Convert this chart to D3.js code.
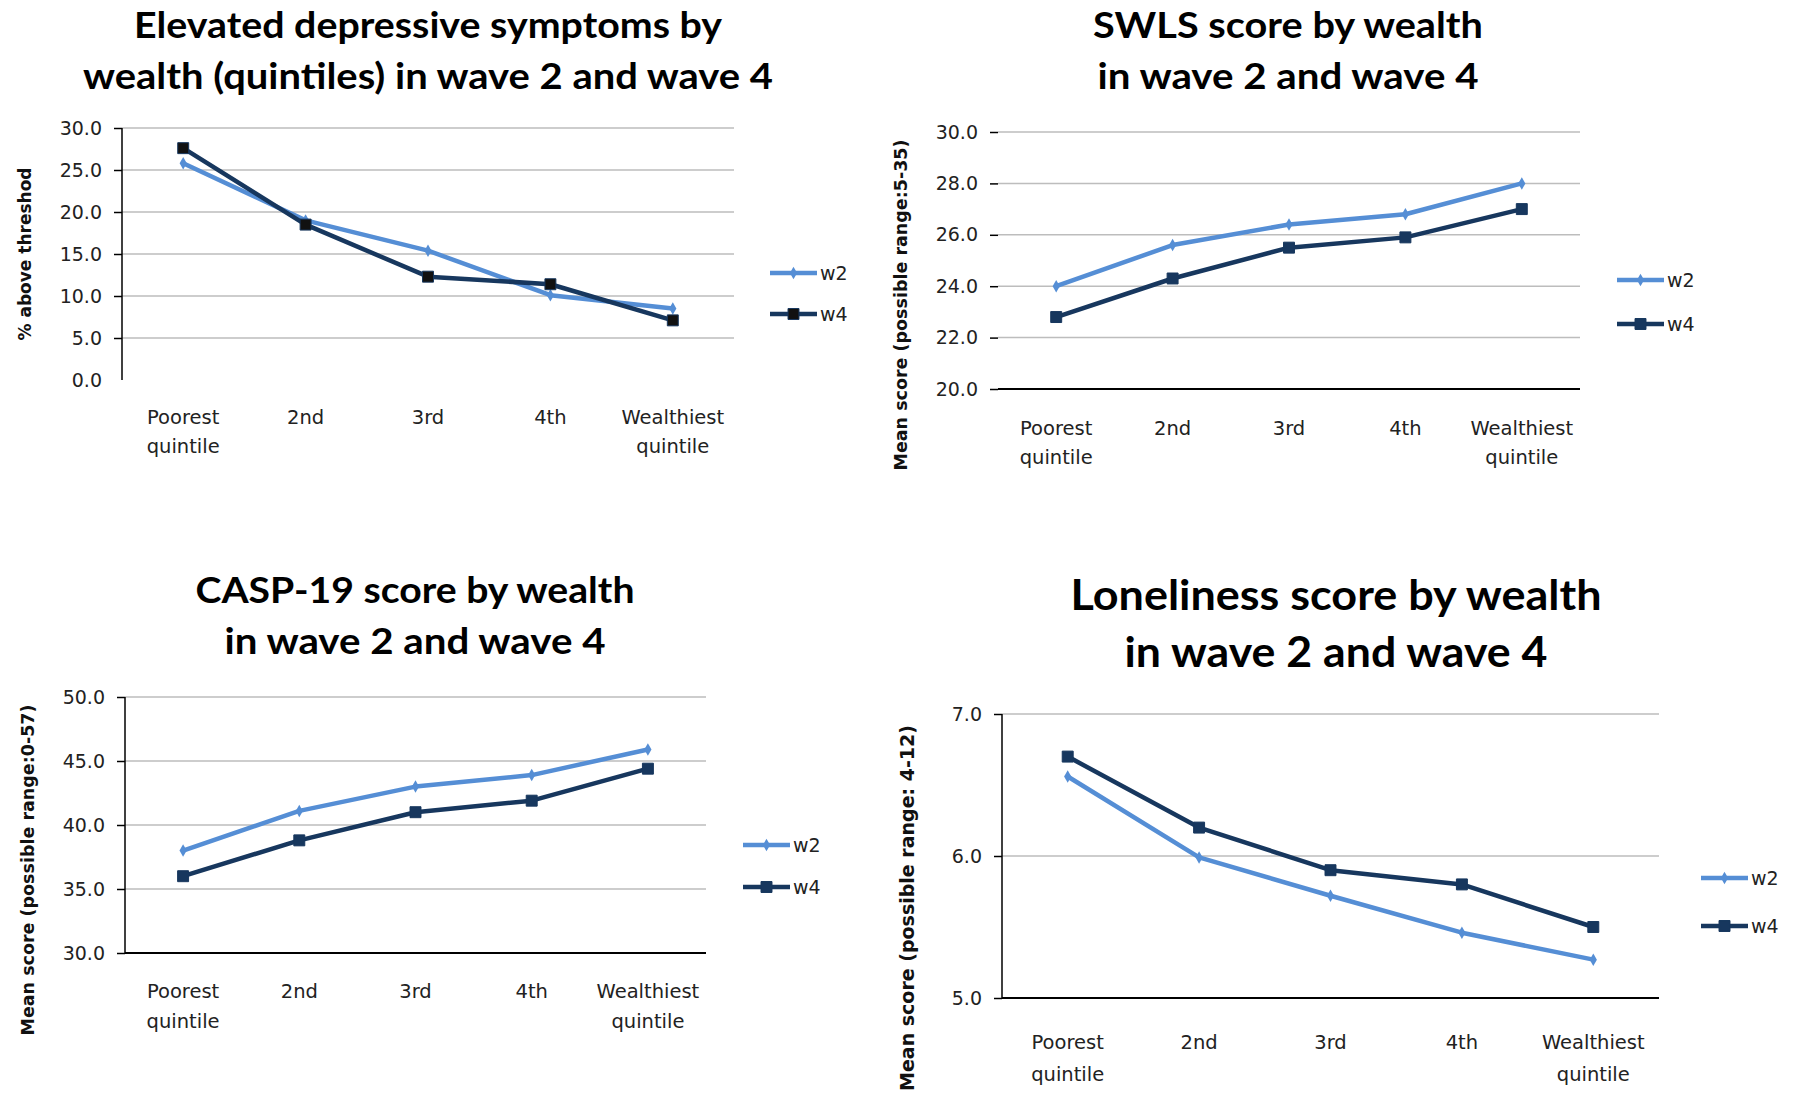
<!DOCTYPE html>
<html>
<head>
<meta charset="utf-8">
<script src="https://cdn.jsdelivr.net/npm/d3@7"></script>
<style>
  html, body { margin: 0; padding: 0; background: #fff; }
  svg { display: block; }
  .title { font-family: Lato, "Open Sans", sans-serif; font-weight: 700; fill: #000; }
  .tick-label, .cat-label, .legend-label { font-family: "DejaVu Sans", sans-serif; fill: #222; }
  .y-title { font-family: "DejaVu Sans", sans-serif; font-weight: 700; fill: #111; }
</style>
</head>
<body>
<svg id="chart" width="1812" height="1096"></svg>
<script>
// Wealth quintiles shared by all four panels
const categories = [["Poorest", "quintile"], ["2nd"], ["3rd"], ["4th"], ["Wealthiest", "quintile"]];
const seriesNames = ["w2", "w4"];

// Elevated depressive symptoms (% above threshold)
const depressionW2 = [25.8, 19.0, 15.4, 10.1, 8.5];
const depressionW4 = [27.6, 18.5, 12.3, 11.4, 7.1];
const depressionTicks = [0, 5, 10, 15, 20, 25, 30];

// SWLS mean score
const swlsW2 = [24.0, 25.6, 26.4, 26.8, 28.0];
const swlsW4 = [22.8, 24.3, 25.5, 25.9, 27.0];
const swlsTicks = [20, 22, 24, 26, 28, 30];

// CASP-19 mean score
const caspW2 = [38.0, 41.1, 43.0, 43.9, 45.9];
const caspW4 = [36.0, 38.8, 41.0, 41.9, 44.4];
const caspTicks = [30, 35, 40, 45, 50];

// Loneliness mean score
const lonelinessW2 = [6.56, 5.99, 5.72, 5.46, 5.27];
const lonelinessW4 = [6.70, 6.20, 5.90, 5.80, 5.50];
const lonelinessTicks = [5, 6, 7];

const colors = { w2: "#558ed5", w4: "#17375e" };

// Panel layouts (pixel geometry only)
const panels = [
  {
    title: ["Elevated depressive symptoms by", "wealth (quintiles) in wave 2 and wave 4"],
    yTitle: "% above threshod",
    w2: depressionW2, w4: depressionW4, ticks: depressionTicks,
    titleX: 428, titleY: [38, 89], titleSize: 37, titleWidth: [588, 690],
    x0: 122, x1: 734, yTop: 128, yBottom: 380,
    yAxisLine: true, bottomLine: false,
    catY: 424, catDy: 29, yTitleX: 25, yTitleY: 254, yTitleSize: 17,
    legendX: 770, legendY: [273, 314],
    w4Fill: "#111"
  },
  {
    title: ["SWLS score by wealth", "in wave 2 and wave 4"],
    yTitle: "Mean score (possible range:5-35)",
    w2: swlsW2, w4: swlsW4, ticks: swlsTicks,
    titleX: 1288, titleY: [38, 89], titleSize: 37, titleWidth: [390, 381],
    x0: 998, x1: 1580, yTop: 132, yBottom: 389,
    yAxisLine: false, bottomLine: true,
    catY: 435, catDy: 29, yTitleX: 901, yTitleY: 305, yTitleSize: 17.5,
    legendX: 1617, legendY: [280, 324],
    w4Fill: colors.w4
  },
  {
    title: ["CASP-19 score by wealth", "in wave 2 and wave 4"],
    yTitle: "Mean score (possible range:0-57)",
    w2: caspW2, w4: caspW4, ticks: caspTicks,
    titleX: 415, titleY: [603, 654], titleSize: 37, titleWidth: [439, 381],
    x0: 125, x1: 706, yTop: 697, yBottom: 953,
    yAxisLine: true, bottomLine: true,
    catY: 998, catDy: 30, yTitleX: 28, yTitleY: 870, yTitleSize: 17.5,
    legendX: 743, legendY: [845, 887],
    w4Fill: colors.w4
  },
  {
    title: ["Loneliness score by wealth", "in wave 2 and wave 4"],
    yTitle: "Mean score (possible range: 4-12)",
    w2: lonelinessW2, w4: lonelinessW4, ticks: lonelinessTicks,
    titleX: 1336, titleY: [610, 667], titleSize: 42, titleWidth: [531, 423],
    x0: 1002, x1: 1659, yTop: 714, yBottom: 998,
    yAxisLine: true, bottomLine: true,
    catY: 1049, catDy: 32, yTitleX: 907, yTitleY: 908, yTitleSize: 19,
    legendX: 1701, legendY: [878, 926],
    w4Fill: colors.w4
  }
];

const svg = d3.select("#chart");
const fmt = d3.format(".1f");

panels.forEach(p => {
  const g = svg.append("g");
  const ext = d3.extent(p.ticks);
  const x = d3.scalePoint().domain(d3.range(categories.length)).range([p.x0, p.x1]).padding(0.5);
  const y = d3.scaleLinear().domain(ext).range([p.yBottom, p.yTop]);

  // title
  p.title.forEach((t, i) => {
    g.append("text").attr("class", "title")
      .attr("x", p.titleX).attr("y", p.titleY[i])
      .attr("text-anchor", "middle").attr("font-size", p.titleSize)
      .attr("textLength", p.titleWidth[i]).attr("lengthAdjust", "spacingAndGlyphs")
      .text(t);
  });

  // gridlines
  g.append("g").selectAll("line")
    .data(p.ticks.filter(t => t !== ext[0]))
    .join("line")
    .attr("x1", p.x0).attr("x2", p.x1)
    .attr("y1", d => y(d)).attr("y2", d => y(d))
    .attr("stroke", "#bdbdbd").attr("stroke-width", 1.5);

  // y axis ticks + labels
  const yAxis = d3.axisLeft(y).tickValues(p.ticks).tickFormat(fmt).tickSize(8).tickPadding(12);
  const ya = g.append("g").attr("transform", `translate(${p.x0},0)`).call(yAxis);
  ya.select(".domain").remove();
  ya.selectAll(".tick line").attr("stroke", "#000").attr("stroke-width", 1.5);
  ya.selectAll(".tick text").attr("class", "tick-label").attr("font-size", 19)
    .attr("font-family", "DejaVu Sans").attr("fill", "#222");
  if (!p.bottomLine) ya.selectAll(".tick").filter(d => d === ext[0]).select("line").remove();

  if (p.yAxisLine) {
    g.append("line").attr("x1", p.x0).attr("x2", p.x0)
      .attr("y1", y(ext[1])).attr("y2", y(ext[0]))
      .attr("stroke", "#000").attr("stroke-width", 1.5);
  }
  if (p.bottomLine) {
    g.append("line").attr("x1", p.x0).attr("x2", p.x1)
      .attr("y1", y(ext[0])).attr("y2", y(ext[0]))
      .attr("stroke", "#000").attr("stroke-width", 2);
  }

  // category labels
  const cats = g.append("g").selectAll("text").data(categories).join("text")
    .attr("class", "cat-label").attr("font-size", 19.5)
    .attr("text-anchor", "middle")
    .attr("x", (d, i) => x(i)).attr("y", p.catY);
  cats.selectAll("tspan").data(d => d).join("tspan")
    .attr("x", function () { return d3.select(this.parentNode).attr("x"); })
    .attr("dy", (d, i) => i === 0 ? 0 : p.catDy)
    .text(d => d);

  // y-axis title
  g.append("text").attr("class", "y-title").attr("font-size", p.yTitleSize)
    .attr("text-anchor", "middle")
    .attr("transform", `translate(${p.yTitleX},${p.yTitleY}) rotate(-90)`)
    .attr("dy", "0.35em")
    .text(p.yTitle);

  // series lines and markers
  const line = d3.line().x((d, i) => x(i)).y(d => y(d));
  const diamond = d3.symbol().type(d3.symbolDiamond).size(45);
  const square = d3.symbol().type(d3.symbolSquare).size(120);

  g.append("path").datum(p.w2).attr("d", line)
    .attr("fill", "none").attr("stroke", colors.w2).attr("stroke-width", 4.5).attr("stroke-linejoin", "round");
  g.append("path").datum(p.w4).attr("d", line)
    .attr("fill", "none").attr("stroke", colors.w4).attr("stroke-width", 4.5).attr("stroke-linejoin", "round");

  g.append("g").selectAll("path").data(p.w2).join("path")
    .attr("d", diamond)
    .attr("transform", (d, i) => `translate(${x(i)},${y(d)})`)
    .attr("fill", colors.w2);
  g.append("g").selectAll("path").data(p.w4).join("path")
    .attr("d", square)
    .attr("transform", (d, i) => `translate(${x(i)},${y(d)})`)
    .attr("fill", p.w4Fill).attr("stroke", colors.w4).attr("stroke-width", 1);

  // legend
  seriesNames.forEach((s, i) => {
    const ly = p.legendY[i];
    const lg = g.append("g");
    lg.append("line").attr("x1", p.legendX).attr("x2", p.legendX + 47)
      .attr("y1", ly).attr("y2", ly)
      .attr("stroke", colors[s]).attr("stroke-width", 4.5);
    lg.append("path")
      .attr("d", s === "w2" ? diamond : square)
      .attr("transform", `translate(${p.legendX + 23.5},${ly})`)
      .attr("fill", s === "w2" ? colors.w2 : p.w4Fill)
      .attr("stroke", s === "w2" ? "none" : colors.w4);
    lg.append("text").attr("class", "legend-label").attr("font-size", 19)
      .attr("x", p.legendX + 50).attr("y", ly).attr("dy", "0.35em")
      .text(s);
  });
});
</script>
</body>
</html>
